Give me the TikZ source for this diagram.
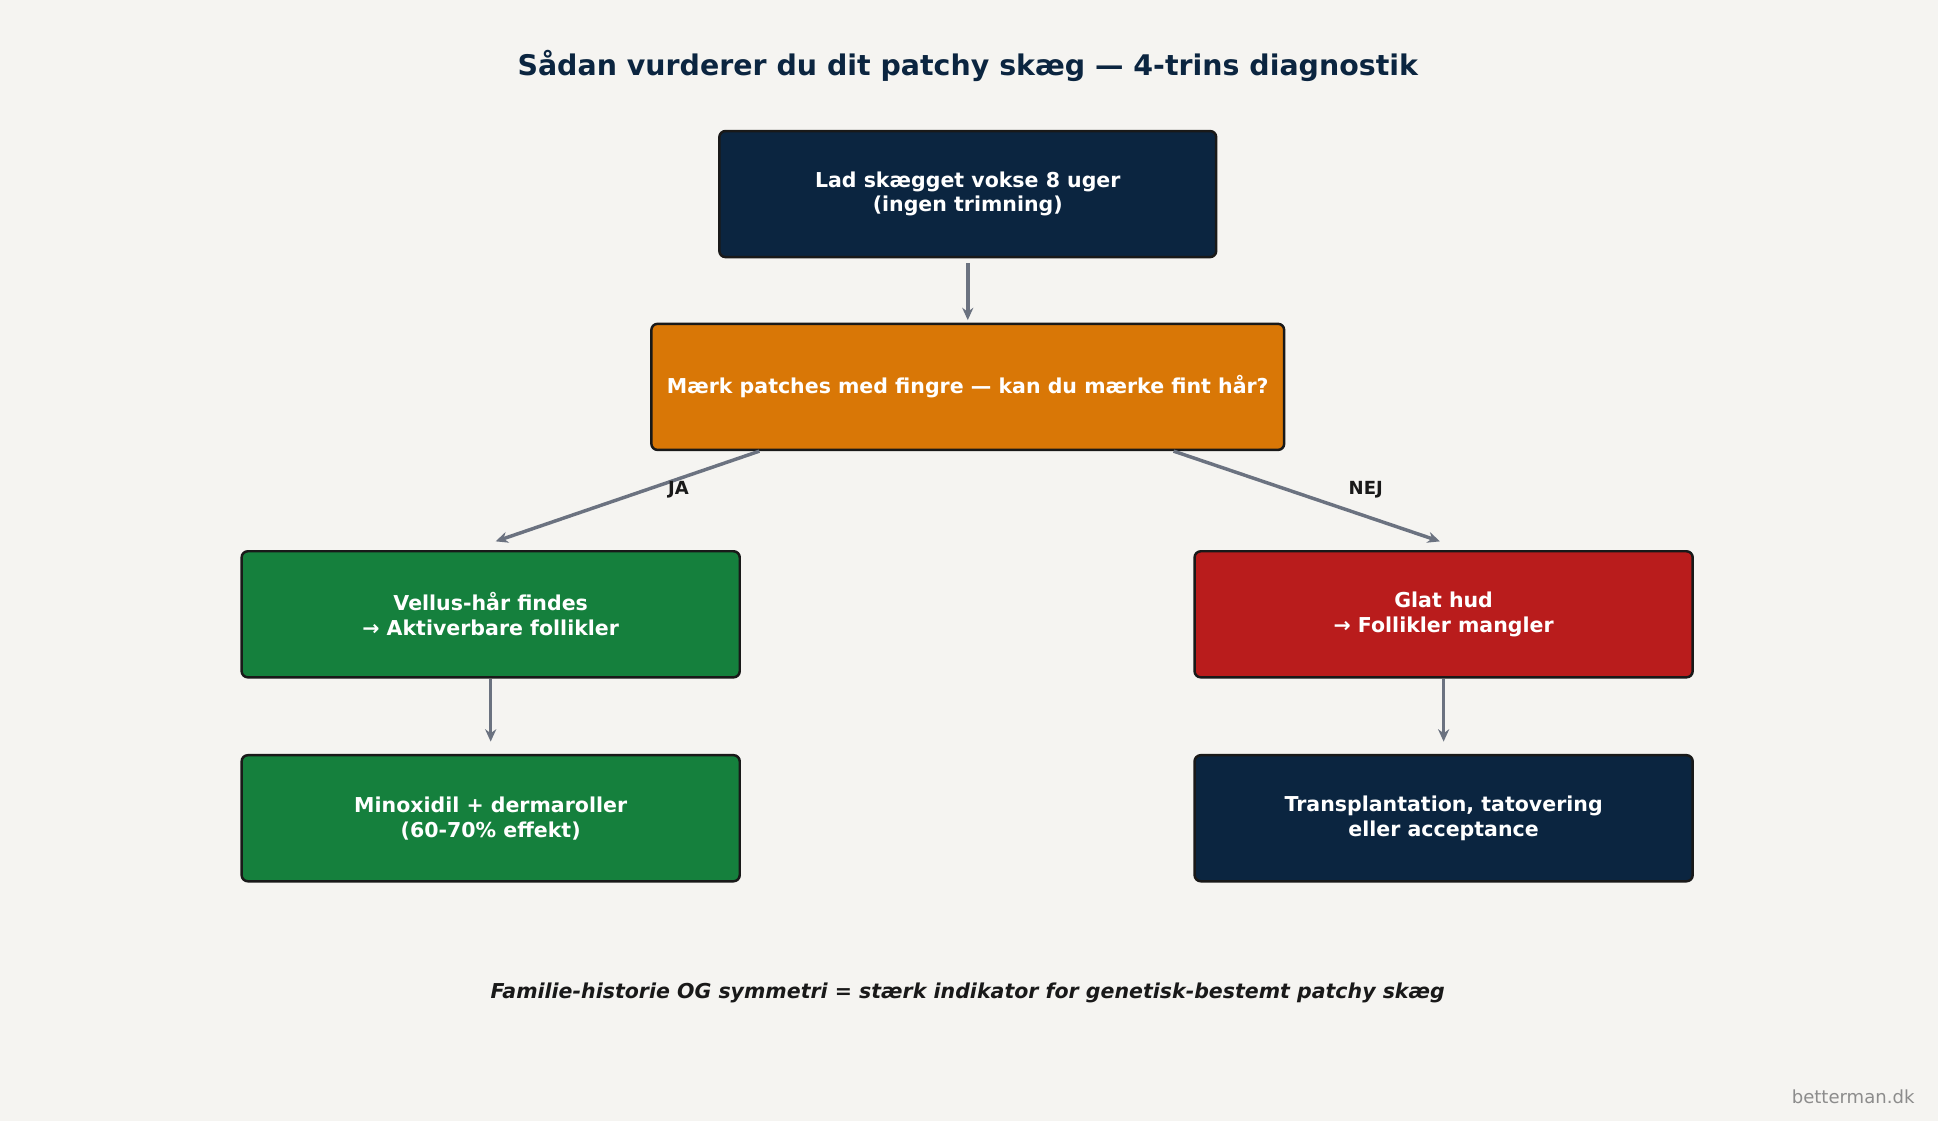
\documentclass[tikz,border=0pt]{standalone}
\usepackage{fontspec}
\setmainfont{DejaVu Sans}
\usetikzlibrary{calc,arrows.meta}
\definecolor{bg}{HTML}{F5F4F1}
\definecolor{navy}{HTML}{0B2540}
\definecolor{org}{HTML}{D97706}
\definecolor{grn}{HTML}{15803D}
\definecolor{rd}{HTML}{B91C1C}
\definecolor{arr}{HTML}{6B7280}
\begin{document}
\begin{tikzpicture}[x=0.5pt,y=-0.5pt,
 box/.style={draw=black!90,line width=1pt,rounded corners=2.5pt,text=white,font=\fontsize{8.3}{10}\selectfont\bfseries,align=center,minimum height=51pt},
 conn/.style={draw=arr,line width=1.4pt,-{Stealth[length=5pt,width=4.5pt]}}]
\fill[bg] (0,0) rectangle (1568,907);
\useasboundingbox (0,0) rectangle (1568,907);
\node[text=navy,font=\fontsize{11.5}{14}\selectfont\bfseries] (title) at (783,53) {Sådan vurderer du dit patchy skæg — 4-trins diagnostik};
\node[box,fill=navy,minimum width=201pt] (b1) at (783,157) {Lad skægget vokse 8 uger\\(ingen trimning)};
\node[box,fill=org,minimum width=256pt] (b2) at (783,313) {Mærk patches med fingre — kan du mærke fint hår?};
\node[box,fill=grn,minimum width=201.5pt] (b3) at (397,497) {Vellus-hår findes\\→ Aktiverbare follikler};
\node[box,fill=rd,minimum width=201.5pt] (b4) at (1168,497) {Glat hud\\→ Follikler mangler};
\node[box,fill=grn,minimum width=201.5pt] (b5) at (397,662) {Minoxidil + dermaroller\\(60-70\% effekt)};
\node[box,fill=navy,minimum width=201.5pt] (b6) at (1168,662) {Transplantation, tatovering\\eller acceptance};
\coordinate (s1) at ($(b2.south west)!0.172!(b2.south east)$);
\coordinate (s2) at ($(b2.south west)!0.824!(b2.south east)$);
\coordinate (t3) at (401,438);
\coordinate (t4) at (1165,438);
\draw[conn] ($(b1.south)+(0,4)$) -- ($(b2.north)+(0,-2)$);
\draw[conn] (s1) -- (t3);
\draw[conn] (s2) -- (t4);
\draw[conn] (b3.south) -- ($(b5.north)+(0,-10)$);
\draw[conn] (b4.south) -- ($(b6.north)+(0,-10)$);
\node[font=\fontsize{7.3}{9}\selectfont\bfseries,text=black!90] (ja) at (549,396) {JA};
\node[font=\fontsize{7.3}{9}\selectfont\bfseries,text=black!90] (nej) at (1105,396) {NEJ};
\node[font=\fontsize{8.3}{10}\selectfont\bfseries\itshape,text=black!90] (foot) at (783,803) {Familie-historie OG symmetri = stærk indikator for genetisk-bestemt patchy skæg};
\node[font=\fontsize{7.3}{9}\selectfont,text=black!45,anchor=east] (wm) at (1556,887) {betterman.dk};
\end{tikzpicture}
\end{document}
